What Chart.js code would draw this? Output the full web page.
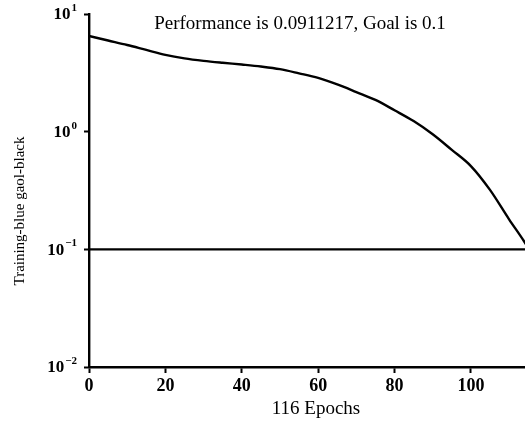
<!DOCTYPE html>
<html>
<head>
<meta charset="utf-8">
<script src="https://cdn.jsdelivr.net/npm/chart.js@4/dist/chart.umd.min.js"></script>
<style>
html, body { margin: 0; padding: 0; background: #fff; overflow: hidden; }
canvas { display: block; }
</style>
</head>
<body>
<canvas id="perf" width="540" height="423"></canvas>
<script>
// training performance per epoch
const epochs    = [0, 5, 10, 15, 20, 25, 30, 35, 40, 45, 50, 55, 60, 65, 70, 75, 80, 85, 90, 95, 100, 105, 110, 114, 116];
const trainPerf = [6.5, 5.95, 5.45, 4.95, 4.5, 4.2, 4.0, 3.85, 3.72, 3.58, 3.4, 3.13, 2.86, 2.52, 2.17, 1.86, 1.52, 1.23, 0.95, 0.70, 0.51, 0.32, 0.18, 0.116, 0.0911];
const goalEpochs = [0, 116];
const goalPerf   = [0.1, 0.1];
const xTicks = [0, 20, 40, 60, 80, 100];
const yExponents = [-2, -1, 0, 1];
const titleText = 'Performance is 0.0911217, Goal is 0.1';
const xLabel = '116 Epochs';
const yLabel = 'Training-blue gaol-black';

const FONT = 'Liberation Serif';
Chart.defaults.font.family = FONT;
Chart.defaults.color = '#000';

const textPlugin = {
  id: 'texts',
  afterDraw(chart) {
    const ctx = chart.ctx;
    const ys = chart.scales.y;
    ctx.save();
    ctx.fillStyle = '#000';
    // y tick labels as 10 with superscript exponent
    yExponents.forEach(e => {
      const py = ys.getPixelForValue(Math.pow(10, e));
      const sup = e < 0 ? '\u2212' + Math.abs(e) : String(e);
      ctx.font = 'bold 11px ' + FONT;
      const w2 = ctx.measureText(sup).width;
      ctx.font = 'bold 17px ' + FONT;
      const w1 = ctx.measureText('10').width;
      const right = 77;
      ctx.textAlign = 'left';
      ctx.textBaseline = 'middle';
      ctx.fillText('10', right - w2 - w1 - 1, py + 1);
      ctx.font = 'bold 11px ' + FONT;
      ctx.fillText(sup, right - w2, py - 6);
    });
    // title inside the plot
    ctx.font = '19px ' + FONT;
    ctx.textAlign = 'center';
    ctx.textBaseline = 'alphabetic';
    ctx.fillText(titleText, 300, 29);
    // x axis title
    ctx.font = '19px ' + FONT;
    ctx.fillText(xLabel, 316, 414);
    // y axis title
    ctx.translate(24, 211);
    ctx.rotate(-Math.PI / 2);
    ctx.font = '15px ' + FONT;
    ctx.fillText(yLabel, 0, 0);
    ctx.restore();
  }
};

new Chart(document.getElementById('perf'), {
  type: 'line',
  data: {
    datasets: [
      {
        label: 'Training',
        data: epochs.map((x, i) => ({ x: x, y: trainPerf[i] })),
        borderColor: '#000',
        borderWidth: 2.4,
        pointRadius: 0,
        cubicInterpolationMode: 'monotone',
        fill: false
      },
      {
        label: 'Goal',
        data: goalEpochs.map((x, i) => ({ x: x, y: goalPerf[i] })),
        borderColor: '#000',
        borderWidth: 2.4,
        pointRadius: 0,
        fill: false
      }
    ]
  },
  options: {
    responsive: false,
    animation: false,
    layout: { padding: { top: 14, right: 8, left: 0, bottom: 0 } },
    plugins: { legend: { display: false }, tooltip: { enabled: false } },
    scales: {
      x: {
        type: 'linear',
        min: 0,
        max: 116,
        afterBuildTicks: s => { s.ticks = xTicks.map(v => ({ value: v })); },
        afterFit: s => { s.height = 56; },
        grid: { drawOnChartArea: false, drawTicks: true, tickLength: 6, tickWidth: 2, tickColor: '#000' },
        border: { display: true, color: '#000', width: 2.4 },
        ticks: { font: { size: 18, weight: 'bold' }, color: '#000', padding: 3, maxRotation: 0 }
      },
      y: {
        type: 'logarithmic',
        min: 0.01,
        max: 10,
        afterBuildTicks: s => { s.ticks = yExponents.map(e => ({ value: Math.pow(10, e) })); },
        afterFit: s => { s.width = 89; },
        grid: { drawOnChartArea: false, drawTicks: true, tickLength: 5, tickWidth: 2, tickColor: '#000' },
        border: { display: true, color: '#000', width: 2.4 },
        ticks: { display: false }
      }
    }
  },
  plugins: [textPlugin]
});
</script>
</body>
</html>
